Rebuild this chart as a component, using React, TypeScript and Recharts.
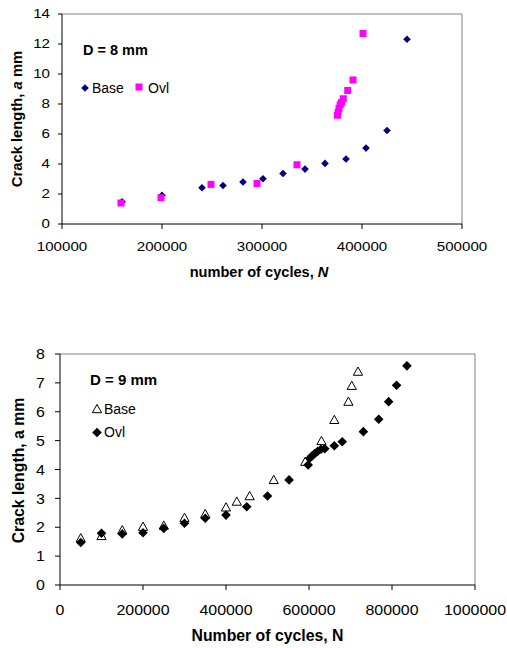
import { ScatterChart, Scatter, XAxis, YAxis, ReferenceLine, Legend } from 'recharts'

// D = 8 mm
const base8N = [160000, 200000, 240000, 261000, 281000, 301000, 321000, 343000, 363000, 384000, 404000, 425000, 445000]
const base8A = [1.48, 1.92, 2.42, 2.57, 2.8, 3.02, 3.37, 3.66, 4.04, 4.33, 5.06, 6.23, 12.32]
const ovl8N = [159000, 199000, 249000, 295000, 335000, 375500, 376200, 377000, 378200, 379500, 381300, 385700, 391000, 401000]
const ovl8A = [1.4, 1.75, 2.64, 2.7, 3.95, 7.25, 7.45, 7.7, 7.95, 8.1, 8.35, 8.9, 9.6, 12.7]
const xTicks8 = [100000, 200000, 300000, 400000, 500000]
const yTicks8 = [0, 2, 4, 6, 8, 10, 12, 14]

// D = 9 mm
const base9N = [50000, 100000, 150000, 200000, 250000, 300000, 350000, 400000, 426000, 457000, 515000, 591000, 630000, 661000, 695000, 703000, 718000]
const base9A = [1.62, 1.7, 1.9, 2.02, 2.06, 2.33, 2.46, 2.69, 2.89, 3.08, 3.64, 4.27, 4.99, 5.72, 6.35, 6.9, 7.39]
const ovl9N = [50000, 100000, 150000, 200000, 250000, 300000, 350000, 400000, 450000, 500000, 552000, 598000, 602000, 607000, 614000, 621000, 629000, 638000, 661000, 680000, 731000, 768000, 792000, 811000, 836000]
const ovl9A = [1.47, 1.79, 1.77, 1.81, 1.96, 2.14, 2.31, 2.42, 2.71, 3.08, 3.64, 4.16, 4.39, 4.47, 4.55, 4.63, 4.7, 4.72, 4.82, 4.96, 5.31, 5.74, 6.35, 6.92, 7.59]
const xTicks9 = [0, 200000, 400000, 600000, 800000, 1000000]
const yTicks9 = [0, 1, 2, 3, 4, 5, 6, 7, 8]

const FONT = 'Arial, "Liberation Sans", sans-serif'
const NAVY = '#000080'
const MAGENTA = '#FF00FF'
const GRID = '#808080'

const zip = (xs: number[], ys: number[]) => xs.map((x, i) => ({ x, y: ys[i] }))

function diamond(cx: number, cy: number, r: number, fill: string) {
  return <path d={`M${cx},${cy - r}L${cx + r},${cy}L${cx},${cy + r}L${cx - r},${cy}Z`} fill={fill} />
}
function square(cx: number, cy: number, r: number, fill: string) {
  return <rect x={cx - r} y={cy - r} width={2 * r} height={2 * r} fill={fill} />
}
function triangle(cx: number, cy: number, r: number) {
  return (
    <path
      d={`M${cx},${cy - r}L${cx + r},${cy + r * 0.8}L${cx - r},${cy + r * 0.8}Z`}
      fill="none"
      stroke="#000"
      strokeWidth={1}
    />
  )
}

// the source picture has horizontally stretched text
function Tick({ x, y, payload, anchor, size, sx, dy }: any) {
  return (
    <text
      transform={`translate(${x},${y}) scale(${sx},1)`}
      textAnchor={anchor}
      dy={dy}
      fontSize={size}
      fontFamily={FONT}
      fill="#000"
    >
      {payload.value}
    </text>
  )
}

function Legend8() {
  return (
    <svg width={200} height={110} style={{ display: 'block' }} fontFamily={FONT}>
      <text x={83} y={55} fontSize={14.5} fontWeight="bold">D = 8 mm</text>
      {diamond(85, 88, 3.8, NAVY)}
      <text x={92} y={93} fontSize={14}>Base</text>
      {square(139, 87, 3.5, MAGENTA)}
      <text x={148} y={93} fontSize={14}>Ovl</text>
    </svg>
  )
}

function Legend9() {
  return (
    <svg width={200} height={130} style={{ display: 'block' }} fontFamily={FONT}>
      <text x={90} y={65} fontSize={15} fontWeight="bold">D = 9 mm</text>
      {triangle(97, 89, 4.6)}
      <text x={104} y={94} fontSize={14}>Base</text>
      {diamond(97, 112.5, 4.8, '#000')}
      <text x={104} y={117} fontSize={14}>Ovl</text>
    </svg>
  )
}

function ChartD8() {
  return (
    <ScatterChart width={507} height={320} margin={{ top: 14, right: 45, bottom: 36, left: 0 }}>
      <XAxis
        type="number"
        dataKey="x"
        domain={[100000, 500000]}
        ticks={xTicks8}
        interval={0}
        height={60}
        tickSize={5}
        tickMargin={13}
        axisLine={{ stroke: '#000' }}
        tickLine={{ stroke: '#000' }}
        tick={(p: any) => <Tick {...p} anchor="middle" size={12.6} sx={1.2} dy="0.71em" />}
        label={(p: any) => {
          const vb = p.viewBox || { x: 62, y: 224, width: 400 }
          return (
            <text x={vb.x + vb.width / 2 - 3} y={vb.y + 53} textAnchor="middle" fontFamily={FONT} fontSize={14.6} fontWeight="bold">
              number of cycles, <tspan fontStyle="italic">N</tspan>
            </text>
          )
        }}
      />
      <YAxis
        type="number"
        dataKey="y"
        domain={[0, 14]}
        ticks={yTicks8}
        interval={0}
        width={62}
        tickSize={4}
        tickMargin={8}
        axisLine={{ stroke: '#000' }}
        tickLine={{ stroke: '#000' }}
        tick={(p: any) => <Tick {...p} anchor="end" size={12.6} sx={1.2} dy="0.355em" />}
        label={(p: any) => {
          const vb = p.viewBox || { x: 0, y: 14, height: 210 }
          const cy = vb.y + vb.height / 2
          return (
            <text transform={`translate(22,${cy}) rotate(-90)`} textAnchor="middle" fontFamily={FONT} fontSize={14.8} fontWeight="bold">
              Crack length,  <tspan fontStyle="italic">a</tspan> mm
            </text>
          )
        }}
      />
      <ReferenceLine y={14} stroke={GRID} />
      <ReferenceLine x={500000} stroke={GRID} />
      <Legend
        layout="vertical"
        align="center"
        verticalAlign="middle"
        wrapperStyle={{ left: 0, top: 0, width: 200 }}
        content={() => <Legend8 />}
      />
      <Scatter
        name="Base"
        data={zip(base8N, base8A)}
        isAnimationActive={false}
        shape={(p: any) => diamond(p.cx, p.cy, 3.8, NAVY)}
      />
      <Scatter
        name="Ovl"
        data={zip(ovl8N, ovl8A)}
        isAnimationActive={false}
        shape={(p: any) => square(p.cx, p.cy, 3.5, MAGENTA)}
      />
    </ScatterChart>
  )
}

function ChartD9() {
  return (
    <ScatterChart width={507} height={328} margin={{ top: 34, right: 32, bottom: 8, left: 0 }}>
      <XAxis
        type="number"
        dataKey="x"
        domain={[0, 1000000]}
        ticks={xTicks9}
        interval={0}
        height={55}
        tickSize={5}
        tickMargin={15}
        axisLine={{ stroke: '#000' }}
        tickLine={{ stroke: '#000' }}
        tick={(p: any) => <Tick {...p} anchor="middle" size={14.5} sx={1.1} dy="0.71em" />}
        label={(p: any) => {
          const vb = p.viewBox || { x: 60, y: 265, width: 415 }
          return (
            <text x={vb.x + vb.width / 2} y={vb.y + 56} textAnchor="middle" fontFamily={FONT} fontSize={15.8} fontWeight="bold">
              Number of cycles, N
            </text>
          )
        }}
      />
      <YAxis
        type="number"
        dataKey="y"
        domain={[0, 8]}
        ticks={yTicks9}
        interval={0}
        width={60}
        tickSize={5}
        tickMargin={10}
        axisLine={{ stroke: '#000' }}
        tickLine={{ stroke: '#000' }}
        tick={(p: any) => <Tick {...p} anchor="end" size={14.5} sx={1.1} dy="0.355em" />}
        label={(p: any) => {
          const vb = p.viewBox || { x: 0, y: 34, height: 231 }
          const cy = vb.y + vb.height / 2 + 1
          return (
            <text transform={`translate(24,${cy}) rotate(-90)`} textAnchor="middle" fontFamily={FONT} fontSize={15.8} fontWeight="bold">
              Crack length, a mm
            </text>
          )
        }}
      />
      <ReferenceLine y={8} stroke={GRID} />
      <ReferenceLine x={1000000} stroke={GRID} />
      <Legend
        layout="vertical"
        align="center"
        verticalAlign="middle"
        wrapperStyle={{ left: 0, top: 0, width: 200 }}
        content={() => <Legend9 />}
      />
      <Scatter
        name="Base"
        data={zip(base9N, base9A)}
        isAnimationActive={false}
        shape={(p: any) => triangle(p.cx, p.cy, 4.6)}
      />
      <Scatter
        name="Ovl"
        data={zip(ovl9N, ovl9A)}
        isAnimationActive={false}
        shape={(p: any) => diamond(p.cx, p.cy, 4.8, '#000')}
      />
    </ScatterChart>
  )
}

export default function App() {
  return (
    <div style={{ position: 'absolute', left: 0, top: 0, width: 507, height: 648, background: '#fff' }}>
      <ChartD8 />
      <ChartD9 />
    </div>
  )
}
